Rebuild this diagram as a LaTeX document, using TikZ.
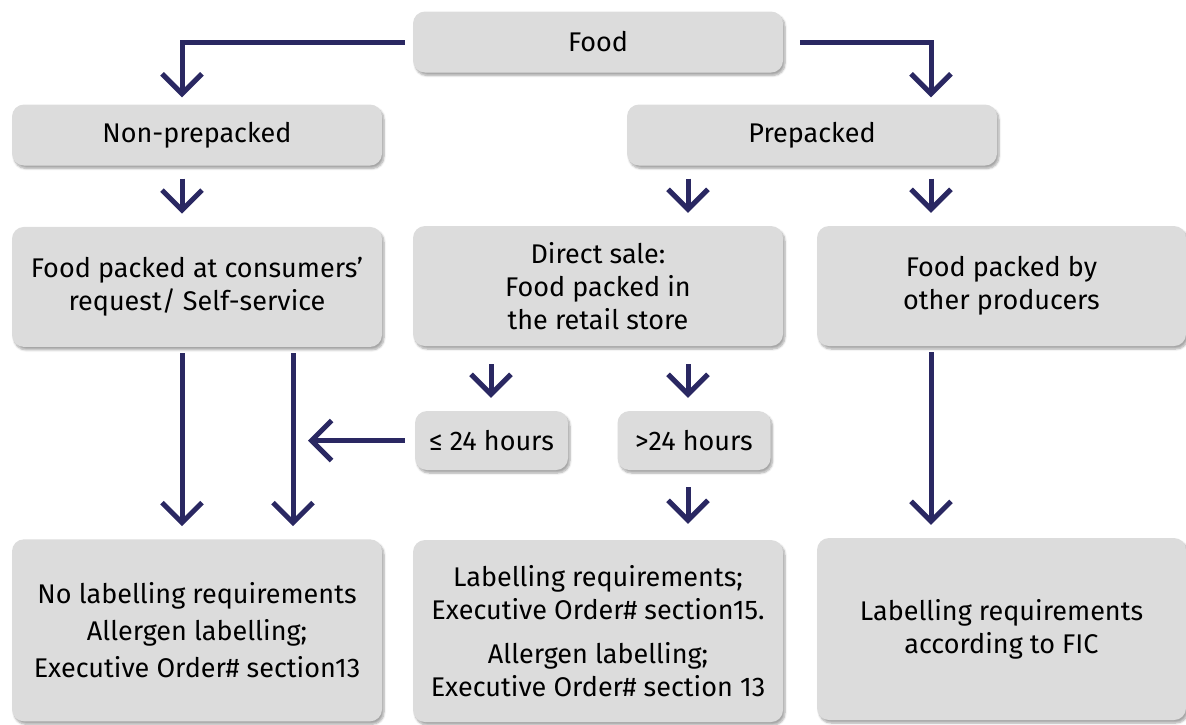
\documentclass[tikz,border=0pt]{standalone}
\usepackage{fontspec}
\setmainfont{Fira Sans}
\usetikzlibrary{arrows.meta, positioning, shadows.blur}

\definecolor{navy}{RGB}{42,40,98}
\definecolor{boxgray}{RGB}{220,220,220}

\begin{document}
\begin{tikzpicture}[
    x=1pt, y=-1pt,
    box/.style={rectangle, rounded corners=12pt, fill=boxgray, align=center, inner sep=4pt, font=\fontsize{27}{33}\selectfont, blur shadow={shadow xshift=2pt, shadow yshift=-3pt, shadow blur steps=6, shadow opacity=35}},
    small/.style={box, minimum width=370pt, minimum height=61pt},
    mid/.style={box, minimum width=370pt, minimum height=120pt},
    big/.style={box, minimum width=370pt, minimum height=182pt},
    hours/.style={box, minimum width=153pt, minimum height=59pt},
    arrow/.style={-{Straight Barb[length=20pt, width=40pt]}, line width=5pt, draw=navy}
]
\useasboundingbox (0,0) rectangle (1186,724);

% ==== Columns of the arrows ====
\coordinate (ca) at (182,0);
\coordinate (cb) at (293,0);
\coordinate (cc) at (491,0);
\coordinate (cd) at (688,0);
\coordinate (ce) at (931,0);

% ==== Boxes ====
\node[small] (food) at (598,42) {Food};
\node[small] (nonpre) at (197,135) {Non-prepacked};
\node[small] (prepacked) at (812,135) {Prepacked};

\node[mid, below=61pt of nonpre] (consumer) {Food packed at consumers’\\request/ Self-service};
\node[mid] (direct) at (598,286) {Direct sale:\\Food packed in\\the retail store};
\node[mid, minimum width=369pt] (other) at (1001.5,286) {Food packed by\\other producers};

\node[hours] (short) at (491.5,440.5) {≤ 24 hours};
\node[hours] (long) at (694,440.5) {>24 hours};

\node[big, below=192pt of consumer] (nolabel) {No labelling requirements\\[4pt]Allergen labelling;\\[4pt]Executive Order\# section13};
\node[big] (retail) at (598,631) {Labelling requirements;\\Executive Order\# section15.\\[11pt]Allergen labelling;\\Executive Order\# section 13};
\node[big, minimum width=369pt] (fic) at (1001.5,629) {Labelling requirements\\according to FIC};

% ==== Arrows ====
\draw[arrow, shorten <=8pt, shorten >=7pt] (food.west) -| (ca |- nonpre.north);
\draw[arrow, shorten <=17pt, shorten >=7pt] (food.east) -| (ce |- prepacked.north);

\draw[arrow, shorten <=13pt, shorten >=13pt] (ca |- nonpre.south) -- (ca |- consumer.north);
\draw[arrow, shorten <=13pt, shorten >=13pt] (cd |- prepacked.south) -- (cd |- direct.north);
\draw[arrow, shorten <=13pt, shorten >=13pt] (ce |- prepacked.south) -- (ce |- other.north);

\draw[arrow, shorten <=6pt, shorten >=13pt] (ca |- consumer.south) -- (ca |- nolabel.north);
\draw[arrow, shorten <=6pt, shorten >=13pt] (cb |- consumer.south) -- (cb |- nolabel.north);

\draw[arrow, shorten <=18pt, shorten >=13pt] (cc |- direct.south) -- (cc |- short.north);
\draw[arrow, shorten <=18pt, shorten >=13pt] (cd |- direct.south) -- (cd |- long.north);
\draw[arrow, shorten <=10pt, shorten >=15pt] (short.west) -- (cb |- short.west);

\draw[arrow, shorten <=17pt, shorten >=16pt] (cd |- long.south) -- (cd |- retail.north);
\draw[arrow, shorten <=6pt, shorten >=13pt] (ce |- other.south) -- (ce |- fic.north);

\end{tikzpicture}
\end{document}
